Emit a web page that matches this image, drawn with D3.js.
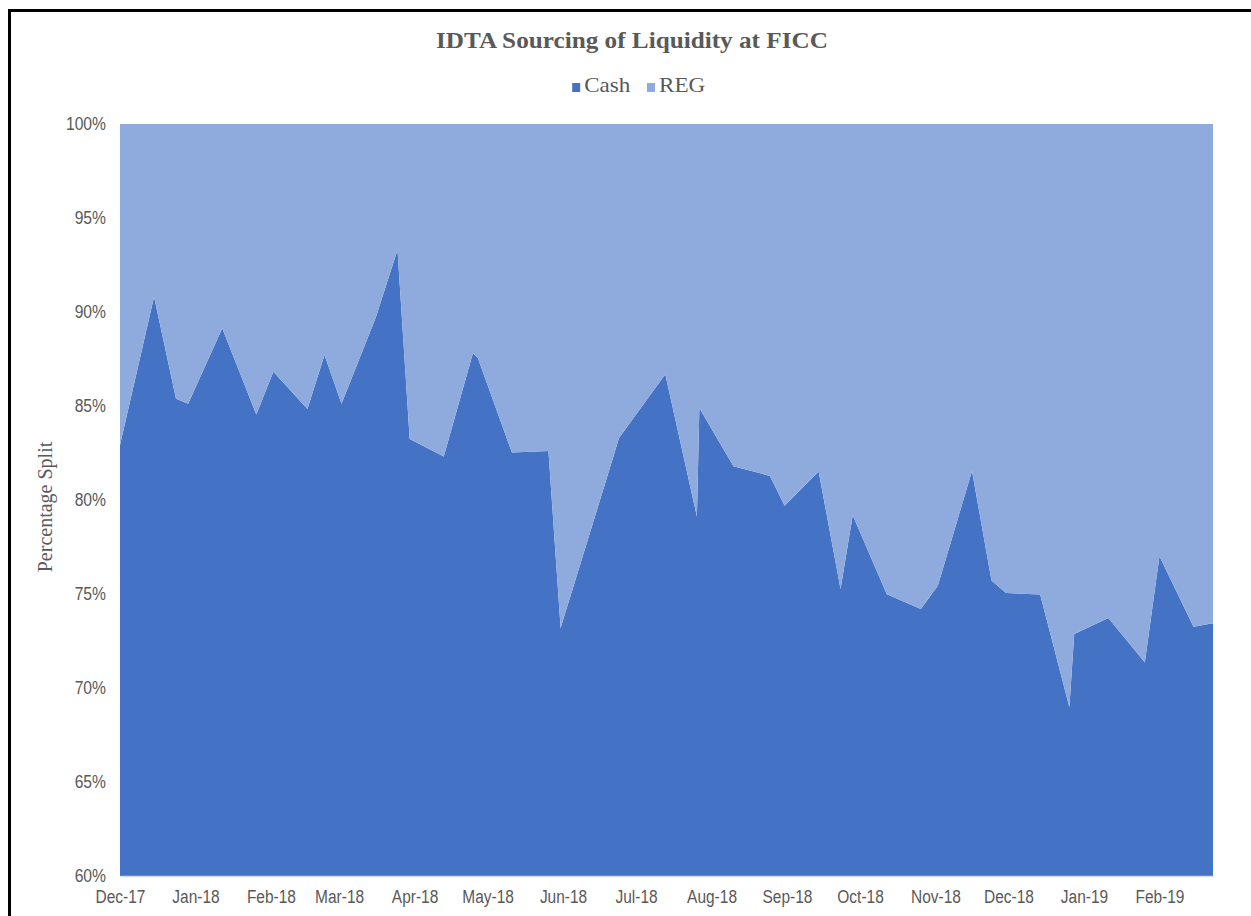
<!DOCTYPE html>
<html><head><meta charset="utf-8">
<script src="https://cdn.jsdelivr.net/npm/d3@7"></script>
<style>body{margin:0;background:#fff} svg{display:block}</style>
</head><body><svg id="c" width="1251" height="916"></svg>
<script>
// ---- data ----
const dates = ["2017-12-01","2017-12-15","2017-12-24","2017-12-29","2018-01-12","2018-01-26","2018-02-02","2018-02-16","2018-02-23","2018-03-02","2018-03-16","2018-03-25","2018-03-30","2018-04-13","2018-04-25","2018-04-27","2018-05-11","2018-05-26","2018-05-31","2018-06-15","2018-06-24","2018-07-13","2018-07-26","2018-07-27","2018-08-10","2018-08-25","2018-08-31","2018-09-14","2018-09-23","2018-09-28","2018-10-12","2018-10-26","2018-11-02","2018-11-16","2018-11-24","2018-11-30","2018-12-14","2018-12-26","2018-12-28","2019-01-11","2019-01-26","2019-02-01","2019-02-15","2019-02-23"];
const cashShare = [82.93,90.81,85.39,85.12,89.13,84.55,86.82,84.84,87.71,85.12,89.68,93.30,83.24,82.31,87.82,87.55,82.52,82.61,73.19,79.50,83.30,86.69,79.11,84.89,81.79,81.28,79.70,81.51,75.27,79.19,74.99,74.20,75.45,81.54,75.72,75.05,74.98,68.97,72.87,73.72,71.36,77.01,73.26,73.44];
const regShare = [17.07,9.19,14.61,14.88,10.87,15.45,13.18,15.16,12.29,14.88,10.32,6.70,16.76,17.69,12.18,12.45,17.48,17.39,26.81,20.50,16.70,13.31,20.89,15.11,18.21,18.72,20.30,18.49,24.73,20.81,25.01,25.80,24.55,18.46,24.28,24.95,25.02,31.03,27.13,26.28,28.64,22.99,26.74,26.56];
const seriesNames = ["Cash","REG"];
const seriesColors = ["#4472C4","#8FAADC"];
const yTickValues = [60,65,70,75,80,85,90,95,100];
const xTickMonths = ["2017-12-01","2018-01-01","2018-02-01","2018-03-01","2018-04-01","2018-05-01","2018-06-01","2018-07-01","2018-08-01","2018-09-01","2018-10-01","2018-11-01","2018-12-01","2019-01-01","2019-02-01"];
const chartTitle = "IDTA Sourcing of Liquidity at FICC";
const yAxisTitle = "Percentage Split";

// ---- drawing ----
const svg = d3.select("#c");
const W = 1251, H = 916;
const P = {left:120, right:1213, top:124, bottom:876};
const parse = d3.timeParse("%Y-%m-%d");
const rows = dates.map((d,i)=>({date:parse(d), Cash:cashShare[i], REG:regShare[i]}));
const serif = "'Liberation Serif','Times New Roman',serif";
const sans = "'Liberation Sans',Arial,sans-serif";

function widthScale(sel, f){
  sel.each(function(){
    const n = this.getComputedTextLength();
    d3.select(this).attr("textLength", n*f).attr("lengthAdjust","spacingAndGlyphs");
  });
}

svg.append("rect").attr("width",W).attr("height",H).attr("fill","#fff");

const x = d3.scaleTime().domain([parse(xTickMonths[0]), parse(dates[dates.length-1])]).range([P.left,P.right]);
const y = d3.scaleLinear().domain([60,100]).range([P.bottom,P.top]);
const color = d3.scaleOrdinal().domain(seriesNames).range(seriesColors);

svg.append("defs").append("clipPath").attr("id","pc").append("rect")
  .attr("x",P.left).attr("y",P.top).attr("width",P.right-P.left).attr("height",P.bottom-P.top);

const layers = d3.stack().keys(seriesNames)(rows);
const area = d3.area().x(d=>x(d.data.date)).y0(d=>y(d[0])).y1(d=>y(d[1]));
svg.append("g").attr("clip-path","url(#pc)").selectAll("path").data(layers).join("path")
  .attr("d",area).attr("fill",d=>color(d.key));

const gy = svg.append("g").attr("transform",`translate(${P.left},0)`)
  .call(d3.axisLeft(y).tickValues(yTickValues).tickFormat(d=>d+"%").tickSize(0).tickPadding(14));
gy.select(".domain").remove();
gy.selectAll("text").attr("fill","#595959").style("font-family",sans).style("font-size","18px");
widthScale(gy.selectAll("text"), 0.87);

const gx = svg.append("g").attr("transform",`translate(0,${P.bottom})`)
  .call(d3.axisBottom(x).tickValues(xTickMonths.map(parse)).tickFormat(d3.timeFormat("%b-%y")).tickSize(0).tickSizeOuter(0).tickPadding(14));
gx.select(".domain").attr("stroke","#D9D9D9").attr("stroke-width",1.5);
gx.selectAll("text").attr("fill","#595959").style("font-family",sans).style("font-size","18px");
widthScale(gx.selectAll("text"), 0.86);

const tt = svg.append("text").attr("x",632).attr("y",48).attr("text-anchor","middle")
  .style("font-family",serif).style("font-weight","bold").style("font-size","24px")
  .attr("fill","#595959").text(chartTitle);
widthScale(tt, 1.05);

svg.append("text").attr("transform","translate(52,507) rotate(-90)").attr("text-anchor","middle")
  .style("font-family",serif).style("font-size","20px")
  .attr("fill","#595959").text(yAxisTitle);

const lg = svg.append("g");
let lx = 0;
seriesNames.forEach((n,i)=>{
  const it = lg.append("g").attr("transform",`translate(${lx},0)`);
  it.append("rect").attr("x",0).attr("y",-9).attr("width",8).attr("height",9).attr("fill",seriesColors[i]);
  const t = it.append("text").attr("x",12).attr("y",0)
    .style("font-family",serif).style("font-size","21px")
    .attr("fill","#595959").text(n);
  widthScale(t, 1.1);
  lx += 12 + t.node().getComputedTextLength()*1.1 + 12;
});
const lw = lx - 12;
lg.attr("transform",`translate(${641 - lw/2},92)`);

svg.append("rect").attr("x",9.5).attr("y",10.5).attr("width",1300).attr("height",1000)
  .attr("fill","none").attr("stroke","#000").attr("stroke-width",3);
</script></body></html>
